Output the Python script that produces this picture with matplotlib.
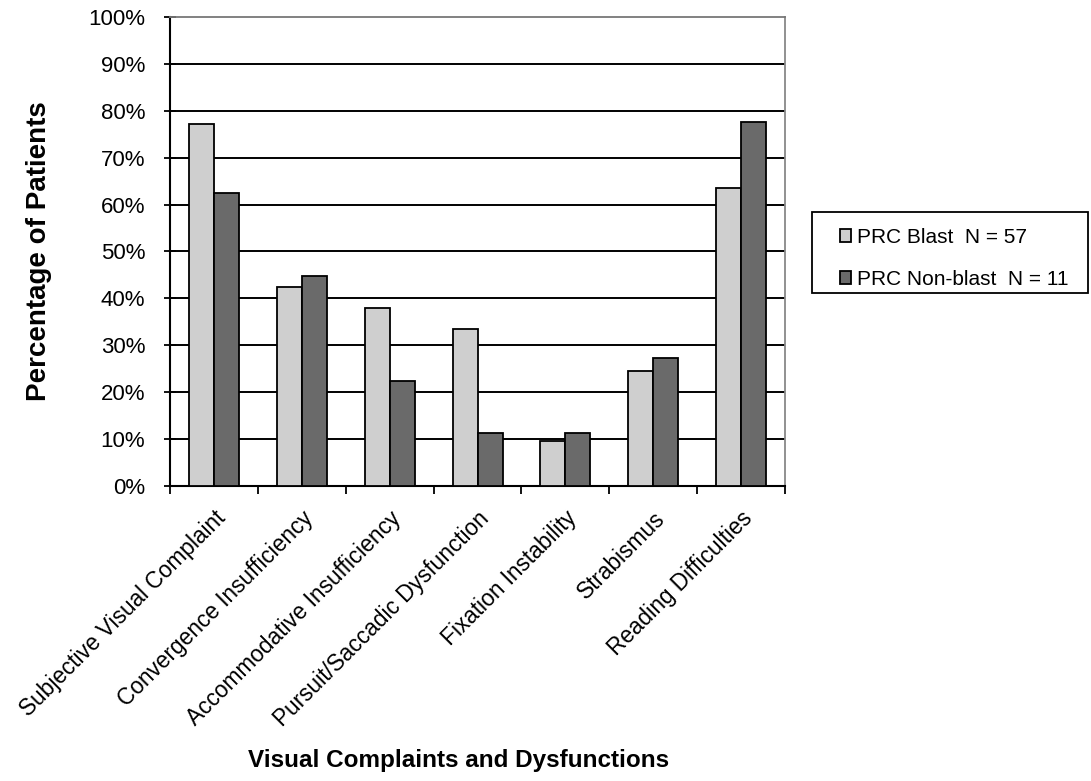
import numpy as np
import matplotlib.pyplot as plt
from matplotlib.patches import Rectangle

plt.rcParams['font.family'] = ['Liberation Sans', 'DejaVu Sans']

# data
categories = ['Subjective Visual Complaint', 'Convergence Insufficiency',
              'Accommodative Insufficiency', 'Pursuit/Saccadic Dysfunction',
              'Fixation Instability', 'Strabismus', 'Reading Difficulties']
blast = [77.2, 42.4, 38.0, 33.5, 9.5, 24.6, 63.5]
nonblast = [62.5, 44.7, 22.4, 11.3, 11.3, 27.3, 77.7]
labels = ['PRC Blast  N = 57', 'PRC Non-blast  N = 11']

fig = plt.figure(figsize=(10.91, 7.81), dpi=100)
ax = fig.add_axes([0.156, 0.378, 0.5635, 0.600])

x = np.arange(len(categories))
w = 0.285
ax.bar(x - w / 2, blast, w, color='#cfcfcf', edgecolor='black', linewidth=1.3,
       label=labels[0], zorder=3)
ax.bar(x + w / 2, nonblast, w, color='#6a6a6a', edgecolor='black', linewidth=1.3,
       label=labels[1], zorder=3)

ax.set_xlim(-0.5, len(categories) - 0.5)
ax.set_ylim(0, 100)
ax.set_yticks(np.arange(0, 101, 10))
ax.set_yticklabels([f'{v}%' for v in range(0, 101, 10)], fontsize=16)
for v in range(10, 100, 10):
    ax.axhline(v, color='black', linewidth=1.4, zorder=1)

# ticks at category boundaries
ax.set_xticks(np.arange(-0.5, len(categories), 1.0))
ax.set_xticklabels([])
ax.set_xticks(x, minor=True)
ax.set_xticklabels(categories, minor=True, rotation=45, ha='right',
                   rotation_mode='anchor', fontsize=16.3)
ax.tick_params(axis='x', which='minor', length=0, pad=15)
ax.tick_params(axis='x', which='major', length=6, width=1.3, direction='out')
ax.tick_params(axis='y', length=8, width=1.3, direction='inout', pad=14)

ax.spines['top'].set_color('#777777')
ax.spines['right'].set_color('#888888')
ax.spines['top'].set_linewidth(1.3)
ax.spines['right'].set_linewidth(1.3)
ax.spines['left'].set_linewidth(1.5)
ax.spines['bottom'].set_linewidth(1.5)

ax.set_ylabel('Percentage of Patients', fontsize=20, fontweight='bold', labelpad=26)
fig.text(0.42, 0.018, 'Visual Complaints and Dysfunctions', fontsize=17.5,
         fontweight='bold', ha='center')

# legend box reaching almost to the right edge
fig.patches.append(Rectangle((0.7443, 0.6248), 0.2527, 0.1037, transform=fig.transFigure,
                             facecolor='white', edgecolor='black', linewidth=1.3,
                             clip_on=False, zorder=0))
fig.legend(loc='upper left', bbox_to_anchor=(0.7695, 0.708), fontsize=15,
           frameon=False, handlelength=0.55, handleheight=0.55, handletextpad=0.3,
           borderpad=0, labelspacing=1.1, borderaxespad=0)

plt.savefig('out.png', dpi=100)
